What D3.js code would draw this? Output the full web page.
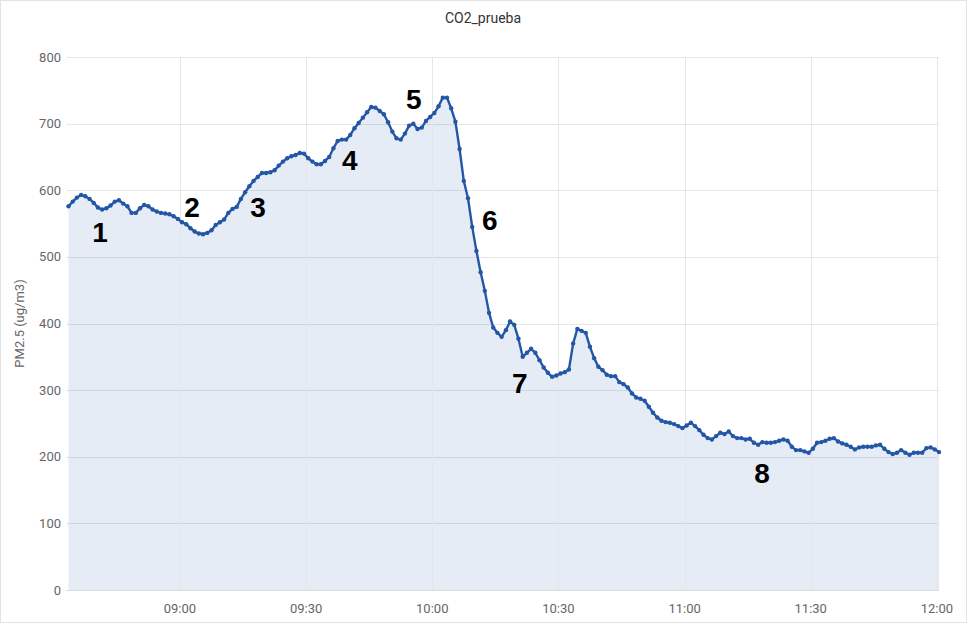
<!DOCTYPE html>
<html>
<head>
<meta charset="utf-8">
<script src="https://cdn.jsdelivr.net/npm/d3@7"></script>
<style>
  html, body { margin: 0; padding: 0; background: #fff; }
  svg { display: block; font-family: Roboto, "Noto Sans", sans-serif; }
</style>
</head>
<body>
<svg id="chart" width="967" height="623"></svg>
<script>
// ---- data ----
const chartTitle = "CO2_prueba";
const yAxisTitle = "PM2.5 (ug/m3)";
const startTime = "2023-01-01T08:33:30";   // first sample
const sampleMinutes = 1;                     // one reading per minute
const values = [
  576,583,589,593,591,587,581,574,571,573,
  577,583,585,580,576,566,566,573,578,576,
  571,568,566,565,564,561,557,552,549,543,
  538,535,534,536,540,548,552,556,566,572,
  575,587,597,606,614,620,626,626,627,630,
  637,643,648,651,653,656,655,648,643,639,
  639,644,650,663,674,676,676,683,693,701,
  709,717,725,724,719,714,702,688,678,676,
  685,697,700,692,694,704,710,716,726,739,
  739,723,703,662,614,588,545,509,477,449,
  416,394,386,380,390,403,398,377,350,356,
  362,356,345,334,326,320,322,325,327,331,
  370,392,389,386,365,348,335,330,323,321,
  321,312,309,304,295,289,287,284,275,266,
  259,254,252,251,249,246,243,247,251,246,
  240,233,228,226,231,236,234,238,231,228,
  228,226,227,221,218,222,221,221,222,224,
  226,224,215,210,210,208,206,212,221,222,
  224,227,228,223,220,218,215,211,214,215,
  215,215,217,218,212,207,204,206,210,206,
  203,206,206,206,213,214,211,207
];
const yTicks = [0,100,200,300,400,500,600,700,800];
const xTickLabels = ["09:00","09:30","10:00","10:30","11:00","11:30","12:00"];
const annotationLabels = ["1","2","3","4","5","6","7","8"];
const annotationTimes  = ["08:41:00","09:02:54","09:18:33","09:40:24","09:55:36","10:13:42","10:20:48","11:18:24"];
const annotationValues = [537,575,575,646,737,556,311,176];

// ---- build ----
const parse = d3.timeParse("%Y-%m-%dT%H:%M:%S");
const t0 = parse(startTime);
const data = values.map((v, i) => ({ t: d3.timeMinute.offset(t0, i * sampleMinutes), v }));
const day = "2023-01-01T";

const svg = d3.select("#chart");
const W = 967, H = 623;
const plot = { left: 68.5, right: 939, top: 57, bottom: 590 };

const x = d3.scaleTime()
  .domain([data[0].t, data[data.length - 1].t])
  .range([plot.left, plot.right]);
const y = d3.scaleLinear().domain([0, 800]).range([plot.bottom, plot.top]);

// card border
svg.append("rect").attr("x", 0.5).attr("y", 0.5).attr("width", W - 1).attr("height", H - 1)
  .attr("fill", "none").attr("stroke", "#e3e3e3");

// title
svg.append("text").attr("x", 483).attr("y", 23).attr("text-anchor", "middle")
  .attr("font-size", 14).attr("fill", "#333").text(chartTitle);

// horizontal grid + y labels
const gy = svg.append("g");
gy.selectAll("line").data(yTicks).join("line")
  .attr("x1", plot.left - 2).attr("x2", plot.right)
  .attr("y1", d => Math.round(y(d)) + 0.5).attr("y2", d => Math.round(y(d)) + 0.5)
  .attr("stroke", "#e6e6e6").attr("stroke-width", 1);
gy.selectAll("text").data(yTicks).join("text")
  .attr("x", 61).attr("y", d => y(d)).attr("dy", "0.35em")
  .attr("text-anchor", "end").attr("font-size", 13).attr("fill", "#666")
  .text(d => d);

// vertical grid + x labels
const xTicks = xTickLabels.map(s => parse(day + s + ":00"));
const gx = svg.append("g");
gx.selectAll("line").data(xTicks).join("line")
  .attr("x1", d => Math.round(x(d)) + 0.5).attr("x2", d => Math.round(x(d)) + 0.5)
  .attr("y1", plot.top).attr("y2", plot.bottom)
  .attr("stroke", "#e6e6e6").attr("stroke-width", 1);
gx.selectAll("text").data(xTicks).join("text")
  .attr("x", d => x(d)).attr("y", 613)
  .attr("text-anchor", "middle").attr("font-size", 13).attr("fill", "#666")
  .text((d, i) => xTickLabels[i]);

// y axis title
svg.append("text")
  .attr("transform", "translate(24," + ((plot.top + plot.bottom) / 2) + ") rotate(-90)")
  .attr("text-anchor", "middle").attr("font-size", 13).attr("fill", "#666")
  .text(yAxisTitle);

// area
const area = d3.area().x(d => x(d.t)).y0(y(0)).y1(d => y(d.v));
svg.append("path").datum(data).attr("d", area)
  .attr("fill", "#4a78c2").attr("fill-opacity", 0.14);

// grid over area (faint)
gx.raise();

// baseline
svg.append("line").attr("x1", plot.left - 2).attr("x2", plot.right)
  .attr("y1", plot.bottom + 0.5).attr("y2", plot.bottom + 0.5)
  .attr("stroke", "#dcdcdc");

// line
const line = d3.line().x(d => x(d.t)).y(d => y(d.v));
svg.append("path").datum(data).attr("d", line)
  .attr("fill", "none").attr("stroke", "#2456a6").attr("stroke-width", 2.4)
  .attr("stroke-linejoin", "round");

// markers
svg.append("g").selectAll("circle").data(data).join("circle")
  .attr("cx", d => x(d.t)).attr("cy", d => y(d.v)).attr("r", 2.2)
  .attr("fill", "#2456a6");

// annotations
svg.append("g").selectAll("text").data(annotationLabels).join("text")
  .attr("x", (d, i) => x(parse(day + annotationTimes[i])))
  .attr("y", (d, i) => y(annotationValues[i]))
  .attr("dy", "0.36em")
  .attr("text-anchor", "middle")
  .attr("font-family", "'Liberation Sans', Arial, sans-serif")
  .attr("font-weight", "bold").attr("font-size", 28).attr("fill", "#000")
  .text(d => d);
</script>
</body>
</html>
